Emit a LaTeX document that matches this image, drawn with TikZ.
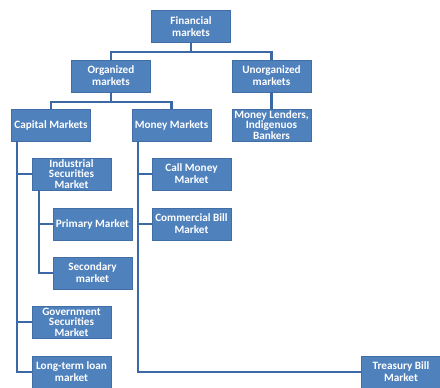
\documentclass[tikz,border=0pt]{standalone}
\usepackage{fontspec}
\setmainfont{Carlito}
\usetikzlibrary{calc}
\definecolor{boxblue}{RGB}{79,129,189}
\definecolor{boxedge}{RGB}{65,110,165}
\definecolor{linecol}{RGB}{60,105,165}
\tikzset{
  mbox/.style={rectangle, fill=boxblue, draw=boxedge, line width=0.6pt,
    minimum width=79pt, minimum height=32pt, inner sep=0pt, align=center,
    text=white, font=\fontsize{11.2}{11.8}\selectfont\bfseries},
  conn/.style={draw=linecol, line width=2.3pt}
}
\begin{document}
\begin{tikzpicture}[x=1pt,y=-1pt]
\useasboundingbox (0,0) rectangle (440,388);
\node[mbox] (fin)   at (191,26.5) {Financial\\markets};
\node[mbox] (org)   at (111,76) {Organized\\markets};
\node[mbox] (unorg) at (271.5,76) {Unorganized\\markets};
\node[mbox] (cap)   at (51,125) {Capital Markets};
\node[mbox] (mon)   at (171.5,125) {Money Markets};
\node[mbox,font=\fontsize{11.2}{10.5}\selectfont\bfseries] (lend) at (271.5,125) {Money Lenders,\\Indigenuos\\Bankers};
\node[mbox,font=\fontsize{11.2}{10.5}\selectfont\bfseries] (ind)   at (71.5,174) {Industrial\\Securities\\Market};
\node[mbox] (prim)  at (92.5,224) {Primary Market};
\node[mbox] (sec)   at (92.5,273) {Secondary\\market};
\node[mbox,font=\fontsize{11.2}{10.5}\selectfont\bfseries] (gov)   at (71.5,322) {Government\\Securities\\Market};
\node[mbox] (lt)    at (71.5,372) {Long-term loan\\market};
\node[mbox] (call)  at (191.5,174) {Call Money\\Market};
\node[mbox] (comm)  at (191.5,224) {Commercial Bill\\Market};
\node[mbox] (tb)    at (401,372) {Treasury Bill\\Market};
% connectors
\draw[conn] (fin.south) -- ++(0,9) -| (org.north);
\draw[conn] (fin.south) -- ++(0,9) -| (unorg.north);
\draw[conn] (org.south) -- ++(0,10) -| (cap.north);
\draw[conn] (org.south) -- ++(0,10) -| (mon.north);
\draw[conn] (unorg.south) -- (lend.north);
\coordinate (ct) at ($(cap.south west)+(6,0)$);
\draw[conn] (ct) |- (lt.west);
\draw[conn] (ct |- ind.west) -- (ind.west);
\draw[conn] (ct |- gov.west) -- (gov.west);
\coordinate (it) at ($(ind.south west)+(7,0)$);
\draw[conn] (it) |- (sec.west);
\draw[conn] (it |- prim.west) -- (prim.west);
\coordinate (mt) at ($(mon.south west)+(6,0)$);
\draw[conn] (mt) |- (tb.west);
\draw[conn] (mt |- call.west) -- (call.west);
\draw[conn] (mt |- comm.west) -- (comm.west);
\end{tikzpicture}
\end{document}
